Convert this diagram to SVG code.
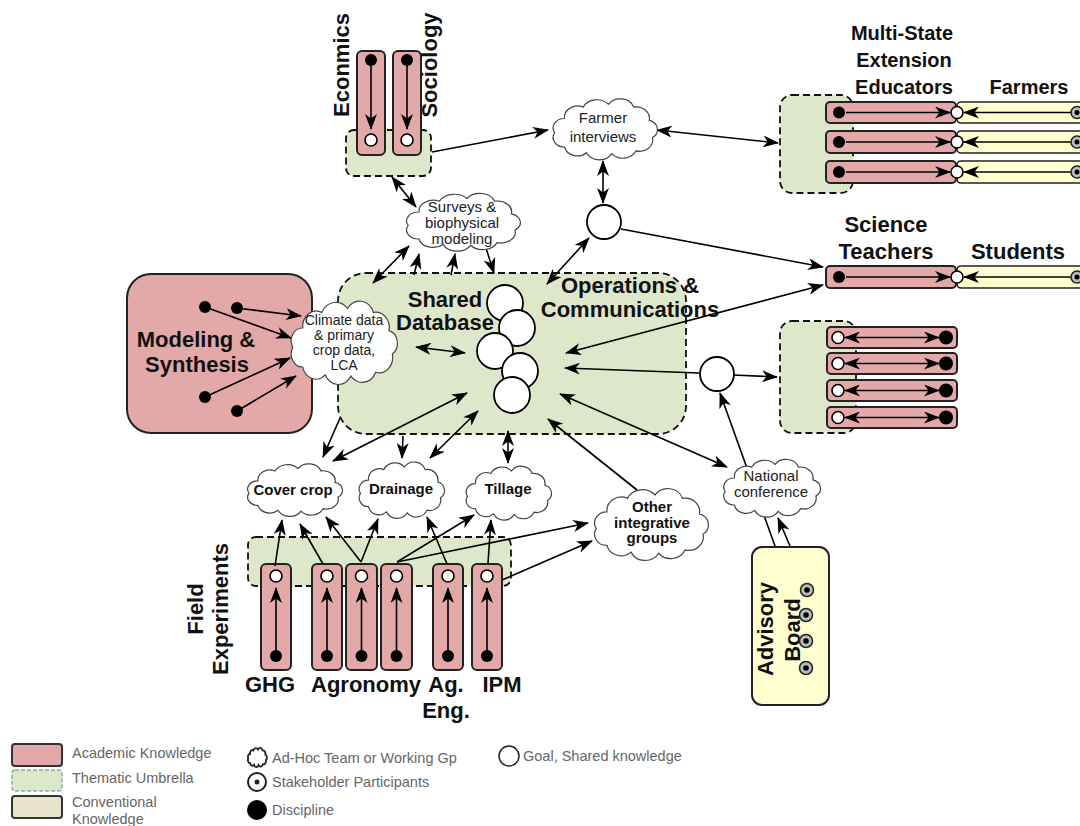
<svg xmlns="http://www.w3.org/2000/svg" xmlns:xlink="http://www.w3.org/1999/xlink" width="1080" height="826" viewBox="0 0 1080 826">
<style>
.ac{fill:#e3a8a8;stroke:#222;stroke-width:2}
.um{fill:#dfe7cb;stroke:#111;stroke-width:1.8;stroke-dasharray:7 4}
.cv{fill:#ffffd0;stroke:#222;stroke-width:1.6}
.ln{fill:none;stroke:#000;stroke-width:1.6}
.ar{marker-end:url(#ah)}
.bi{marker-end:url(#ah);marker-start:url(#ah)}
.disc{fill:#000}
.goal{fill:#fff;stroke:#000;stroke-width:1.6}
.g2{fill:#fff;stroke:#000;stroke-width:1.8}
.sh{fill:#bbb;stroke:#222;stroke-width:1.5}
.cl{fill:#fff;stroke:#444;stroke-width:1.2}
.t{font-family:"Liberation Sans",Arial,sans-serif;font-weight:bold;fill:#111;text-anchor:middle}
.c{font-family:"Liberation Sans",Arial,sans-serif;font-size:15px;fill:#222;text-anchor:middle}
.cs{font-family:"Liberation Sans",Arial,sans-serif;font-size:14px;fill:#222;text-anchor:middle}
.cb{font-family:"Liberation Sans",Arial,sans-serif;font-size:15px;font-weight:bold;fill:#111;text-anchor:middle}
.lg{font-family:"Liberation Sans",Arial,sans-serif;font-size:14.5px;fill:#666}
</style>
<defs>
<marker id="ah" viewBox="0 0 16 12" refX="15" refY="6" markerWidth="16" markerHeight="12" markerUnits="userSpaceOnUse" orient="auto-start-reverse">
<path d="M0,0 L16,6 L0,12 L4.5,6 Z" fill="#000"/>
</marker>
<path id="cloud" vector-effect="non-scaling-stroke" d="M-35,-10 A12,12 0 0 1 -18,-22 A14,14 0 0 1 5,-25 A13,13 0 0 1 28,-22 A12,12 0 0 1 42,-8 A10,10 0 0 1 45,10 A12,12 0 0 1 30,24 A13,13 0 0 1 8,27 A13,13 0 0 1 -15,26 A12,12 0 0 1 -35,20 A10,10 0 0 1 -44,5 A10,10 0 0 1 -35,-10 Z"/>
</defs>

<!-- umbrellas and boxes -->
<g id="umbrella-econ"><rect class="um" x="346" y="130" width="85" height="46" rx="8"/></g>
<g id="umbrella-ext"><rect class="um" x="780" y="95" width="73" height="98" rx="12"/></g>
<g id="umbrella-right"><rect class="um" x="780" y="321" width="76" height="112" rx="12"/></g>
<g id="umbrella-field"><rect class="um" x="248" y="537" width="263" height="49" rx="8"/></g>
<g id="shared-database">
<rect class="um" x="338" y="273" width="348" height="161" rx="28"/>
<text class="t" font-size="22" x="445" y="307">Shared</text>
<text class="t" font-size="22" x="445" y="330">Database</text>
<text class="t" font-size="22" x="630" y="293">Operations &amp;</text>
<text class="t" font-size="22" x="630" y="317">Communications</text>
</g>
<g id="modeling-synthesis">
<rect class="ac" x="127" y="274" width="185" height="159" rx="24"/>
<text class="t" font-size="22" x="196" y="347">Modeling &amp;</text>
<text class="t" font-size="22" x="197" y="372">Synthesis</text>
<circle class="disc" cx="205" cy="307" r="6"/>
<circle class="disc" cx="237" cy="308" r="6"/>
<circle class="disc" cx="205" cy="397" r="6"/>
<circle class="disc" cx="237" cy="411" r="6"/>
</g>
<g id="advisory-board">
<rect x="752" y="547" width="77" height="158" rx="10" fill="#ffffd0" stroke="#222" stroke-width="2"/>
<text class="t" font-size="22" transform="translate(773,629) rotate(-90)">Advisory</text>
<text class="t" font-size="22" transform="translate(800,630) rotate(-90)">Board</text>
<circle class="sh" cx="807" cy="590" r="6.5"/><circle class="disc" cx="807" cy="590" r="2.8"/>
<circle class="sh" cx="806" cy="615" r="6.5"/><circle class="disc" cx="806" cy="615" r="2.8"/>
<circle class="sh" cx="806" cy="641" r="6.5"/><circle class="disc" cx="806" cy="641" r="2.8"/>
<circle class="sh" cx="806" cy="668" r="6.5"/><circle class="disc" cx="806" cy="668" r="2.8"/>
</g>

<!-- Economics / Sociology -->
<g id="economics">
<rect class="ac" x="357" y="51" width="28" height="104" rx="5"/>
<circle class="disc" cx="371" cy="60" r="6"/>
<path class="ln ar" d="M371,64 L371,129"/>
<circle class="goal" cx="371" cy="140" r="6"/>
<text class="t" font-size="22" transform="translate(349,65) rotate(-90)">Econmics</text>
</g>
<g id="sociology">
<rect class="ac" x="393" y="51" width="28" height="104" rx="5"/>
<circle class="disc" cx="407" cy="60" r="6"/>
<path class="ln ar" d="M407,64 L407,129"/>
<circle class="goal" cx="407" cy="140" r="6"/>
<text class="t" font-size="22" transform="translate(437,65) rotate(-90)">Sociology</text>
</g>

<!-- Extension educators / farmers -->
<g id="extension-educators">
<text class="t" font-size="20" x="902" y="40">Multi-State</text>
<text class="t" font-size="20" x="904" y="67">Extension</text>
<text class="t" font-size="20" x="904" y="94">Educators</text>
<rect class="ac" x="826" y="102" width="130" height="21" rx="4"/>
<rect class="ac" x="826" y="131" width="130" height="22" rx="4"/>
<rect class="ac" x="826" y="161" width="130" height="22" rx="4"/>
<circle class="disc" cx="839" cy="112.5" r="6"/><path class="ln ar" d="M846,112.5 L950,112.5"/>
<circle class="disc" cx="839" cy="142" r="6"/><path class="ln ar" d="M846,142 L950,142"/>
<circle class="disc" cx="839" cy="172" r="6"/><path class="ln ar" d="M846,172 L950,172"/>
</g>
<g id="farmers">
<text class="t" font-size="20" x="1029" y="94">Farmers</text>
<rect class="cv" x="957" y="102" width="140" height="21" rx="4"/>
<rect class="cv" x="957" y="131" width="140" height="22" rx="4"/>
<rect class="cv" x="957" y="161" width="140" height="22" rx="4"/>
<path class="ln ar" d="M1072,112.5 L964,112.5"/>
<path class="ln ar" d="M1072,142 L964,142"/>
<path class="ln ar" d="M1072,172 L964,172"/>
<circle class="sh" cx="1077" cy="112.5" r="6"/><circle class="disc" cx="1077" cy="112.5" r="2.5"/>
<circle class="sh" cx="1077" cy="142" r="6"/><circle class="disc" cx="1077" cy="142" r="2.5"/>
<circle class="sh" cx="1077" cy="172" r="6"/><circle class="disc" cx="1077" cy="172" r="2.5"/>
<circle class="goal" cx="957" cy="112.5" r="6"/>
<circle class="goal" cx="957" cy="142" r="6"/>
<circle class="goal" cx="957" cy="172" r="6"/>
</g>

<!-- Science teachers / students -->
<g id="science-teachers">
<text class="t" font-size="22" x="886" y="232">Science</text>
<text class="t" font-size="22" x="886" y="259">Teachers</text>
<rect class="ac" x="826" y="266" width="130" height="22" rx="4"/>
<circle class="disc" cx="839" cy="277" r="6"/><path class="ln ar" d="M846,277 L950,277"/>
</g>
<g id="students">
<text class="t" font-size="22" x="1018" y="259">Students</text>
<rect class="cv" x="957" y="266" width="140" height="22" rx="4"/>
<path class="ln ar" d="M1072,277 L964,277"/>
<circle class="sh" cx="1077" cy="277" r="6"/><circle class="disc" cx="1077" cy="277" r="2.5"/>
<circle class="goal" cx="957" cy="277" r="6"/>
</g>

<!-- right middle disciplines -->
<g id="right-disciplines">
<rect class="ac" x="827" y="327" width="130" height="21" rx="4"/>
<rect class="ac" x="827" y="353" width="130" height="21" rx="4"/>
<rect class="ac" x="827" y="380" width="130" height="21" rx="4"/>
<rect class="ac" x="827" y="407" width="130" height="21" rx="4"/>
<circle class="goal" cx="838" cy="337.5" r="6"/><circle class="disc" cx="946" cy="337.5" r="7"/><path class="ln bi" d="M845,337.5 L939,337.5"/>
<circle class="goal" cx="838" cy="363.5" r="6"/><circle class="disc" cx="946" cy="363.5" r="7"/><path class="ln bi" d="M845,363.5 L939,363.5"/>
<circle class="goal" cx="838" cy="390.5" r="6"/><circle class="disc" cx="946" cy="390.5" r="7"/><path class="ln bi" d="M845,390.5 L939,390.5"/>
<circle class="goal" cx="838" cy="417.5" r="6"/><circle class="disc" cx="946" cy="417.5" r="7"/><path class="ln bi" d="M845,417.5 L939,417.5"/>
</g>

<!-- field experiments -->
<g id="field-experiments">
<text class="t" font-size="22" transform="translate(203,609) rotate(-90)">Field</text>
<text class="t" font-size="22" transform="translate(228,609) rotate(-90)">Experiments</text>
<rect class="ac" x="261" y="564" width="30" height="106" rx="5"/>
<rect class="ac" x="312" y="564" width="30" height="106" rx="5"/>
<rect class="ac" x="346" y="564" width="31" height="106" rx="5"/>
<rect class="ac" x="381" y="564" width="31" height="106" rx="5"/>
<rect class="ac" x="433" y="564" width="30" height="106" rx="5"/>
<rect class="ac" x="472" y="564" width="30" height="106" rx="5"/>
<g>
<circle class="goal" cx="276" cy="576" r="6"/><circle class="disc" cx="276" cy="656" r="6"/><path class="ln ar" d="M276,652 L276,588"/>
<circle class="goal" cx="327" cy="576" r="6"/><circle class="disc" cx="327" cy="656" r="6"/><path class="ln ar" d="M327,652 L327,588"/>
<circle class="goal" cx="361.5" cy="576" r="6"/><circle class="disc" cx="361.5" cy="656" r="6"/><path class="ln ar" d="M361.5,652 L361.5,588"/>
<circle class="goal" cx="396.5" cy="576" r="6"/><circle class="disc" cx="396.5" cy="656" r="6"/><path class="ln ar" d="M396.5,652 L396.5,588"/>
<circle class="goal" cx="448" cy="576" r="6"/><circle class="disc" cx="448" cy="656" r="6"/><path class="ln ar" d="M448,652 L448,588"/>
<circle class="goal" cx="487" cy="576" r="6"/><circle class="disc" cx="487" cy="656" r="6"/><path class="ln ar" d="M487,652 L487,588"/>
</g>
<text class="t" font-size="22" x="270" y="692">GHG</text>
<text class="t" font-size="22" x="366" y="692">Agronomy</text>
<text class="t" font-size="22" x="446" y="692">Ag.</text>
<text class="t" font-size="22" x="446" y="718">Eng.</text>
<text class="t" font-size="22" x="502" y="692">IPM</text>
</g>

<!-- connectors -->
<g id="connectors" class="ln">
<path class="ar" d="M432,152 L548,130"/>
<path class="bi" d="M657,130 L778,143"/>
<path class="bi" d="M603,161 L603,203"/>
<path class="ar" d="M621,229 L823,267"/>
<path class="bi" d="M589,238 L547,284"/>
<path class="bi" d="M566,353 L823,285"/>
<path class="ar" d="M699,373 L565,368"/>
<path class="ar" d="M733,375 L777,377"/>
<path class="ar" d="M775,546 L720,393"/>
<path class="ar" d="M790,546 L778,518"/>
<path class="bi" d="M727,467 L560,394"/>
<path class="ar" d="M637,490 L548,419"/>
<path class="ar" d="M340,418 L323,457"/>
<path class="bi" d="M467,393 L333,461"/>
<path class="ar" d="M403,436 L402,458"/>
<path class="bi" d="M478,411 L430,458"/>
<path class="bi" d="M508,431 L508,463"/>
<path class="ar" d="M237,308 L301,316"/>
<path class="ar" d="M205,307 L291,338"/>
<path class="ar" d="M205,397 L290,358"/>
<path class="ar" d="M237,411 L296,376"/>
<path class="bi" d="M416,347 L465,353"/>
<path class="bi" d="M392,177 L416,207"/>
<path class="bi" d="M409,246 L373,283"/>
<path class="ar" d="M414,275 L419,254"/>
<path class="ar" d="M451,275 L455,254"/>
<path class="ar" d="M485,245 L494,273"/>
<path class="ar" d="M275,566 L282,520"/>
<path class="ar" d="M323,564 L300,524"/>
<path class="ar" d="M361,562 L326,517"/>
<path class="ar" d="M361,562 L378,519"/>
<path class="ar" d="M397,562 L474,515"/>
<path class="ar" d="M397,562 L588,523"/>
<path class="ar" d="M447,564 L427,517"/>
<path class="ar" d="M488,563 L491,520"/>
<path class="ar" d="M502,580 L592,541"/>
</g>

<!-- goal circles -->
<g id="goal-top"><circle class="g2" cx="604" cy="222" r="17"/></g>
<g id="goal-right"><circle class="g2" cx="717" cy="374" r="17"/></g>
<g id="database-goals">
<circle class="g2" cx="505" cy="303" r="18"/>
<circle class="g2" cx="517" cy="328" r="18"/>
<circle class="g2" cx="495" cy="351" r="18"/>
<circle class="g2" cx="520" cy="371" r="18"/>
<circle class="g2" cx="512" cy="395" r="18"/>
</g>

<!-- clouds -->
<g id="farmer-interviews">
<use href="#cloud" class="cl" transform="translate(603,128) scale(1.1,0.95)"/>
<text class="c" x="603" y="123">Farmer</text>
<text class="c" x="603" y="142">interviews</text>
</g>
<g id="surveys">
<use href="#cloud" class="cl" transform="translate(461,221) scale(1.2,0.9)"/>
<text class="c" x="462" y="212">Surveys &amp;</text>
<text class="c" x="462" y="228">biophysical</text>
<text class="c" x="462" y="244">modeling</text>
</g>
<g id="climate-data">
<use href="#cloud" class="cl" transform="translate(342,341) scale(1.12,1.3)"/>
<text class="cs" x="344" y="325">Climate data</text>
<text class="cs" x="344" y="340">&amp; primary</text>
<text class="cs" x="344" y="355">crop data,</text>
<text class="cs" x="344" y="370">LCA</text>
</g>
<g id="cover-crop">
<use href="#cloud" class="cl" transform="translate(293,489) scale(1.0,0.82)"/>
<text class="cb" x="293" y="495">Cover crop</text>
</g>
<g id="drainage">
<use href="#cloud" class="cl" transform="translate(400,489) scale(0.9,0.88)"/>
<text class="cb" x="401" y="494">Drainage</text>
</g>
<g id="tillage">
<use href="#cloud" class="cl" transform="translate(507,492) scale(0.9,0.84)"/>
<text class="cb" x="508" y="494">Tillage</text>
</g>
<g id="other-groups">
<use href="#cloud" class="cl" transform="translate(649,523) scale(1.2,1.12)"/>
<text class="cb" x="652" y="512">Other</text>
<text class="cb" x="652" y="528">integrative</text>
<text class="cb" x="652" y="543">groups</text>
</g>
<g id="national-conference">
<use href="#cloud" class="cl" transform="translate(770,487) scale(1.02,0.9)"/>
<text class="c" x="771" y="481">National</text>
<text class="c" x="771" y="497">conference</text>
</g>

<!-- legend -->
<g id="legend">
<rect x="12" y="744" width="50" height="22" rx="3" fill="#e3a8a8" stroke="#333" stroke-width="2"/>
<text class="lg" x="72" y="758">Academic Knowledge</text>
<rect x="12" y="770" width="50" height="21" rx="3" fill="#dfe7cb" stroke="#8aa" stroke-width="1.5" stroke-dasharray="4 2"/>
<text class="lg" x="72" y="783">Thematic Umbrella</text>
<rect x="12" y="796" width="50" height="22" rx="3" fill="#e8e4cc" stroke="#333" stroke-width="2"/>
<text class="lg" x="72" y="807">Conventional</text>
<text class="lg" x="72" y="824">Knowledge</text>
<use href="#cloud" fill="#fff" stroke="#222" stroke-width="1.8" transform="translate(257,757) scale(0.2,0.3)"/>
<text class="lg" x="272" y="763">Ad-Hoc Team or Working Gp</text>
<circle cx="257" cy="782" r="9" fill="#fff" stroke="#222" stroke-width="2"/>
<circle cx="257" cy="782" r="2.5" fill="#222"/>
<text class="lg" x="272" y="787">Stakeholder Participants</text>
<circle cx="257" cy="810" r="10" fill="#000"/>
<text class="lg" x="272" y="815">Discipline</text>
<circle cx="509" cy="756" r="10" fill="#fff" stroke="#222" stroke-width="1.5"/>
<text class="lg" x="523" y="761">Goal, Shared knowledge</text>
</g>
</svg>
